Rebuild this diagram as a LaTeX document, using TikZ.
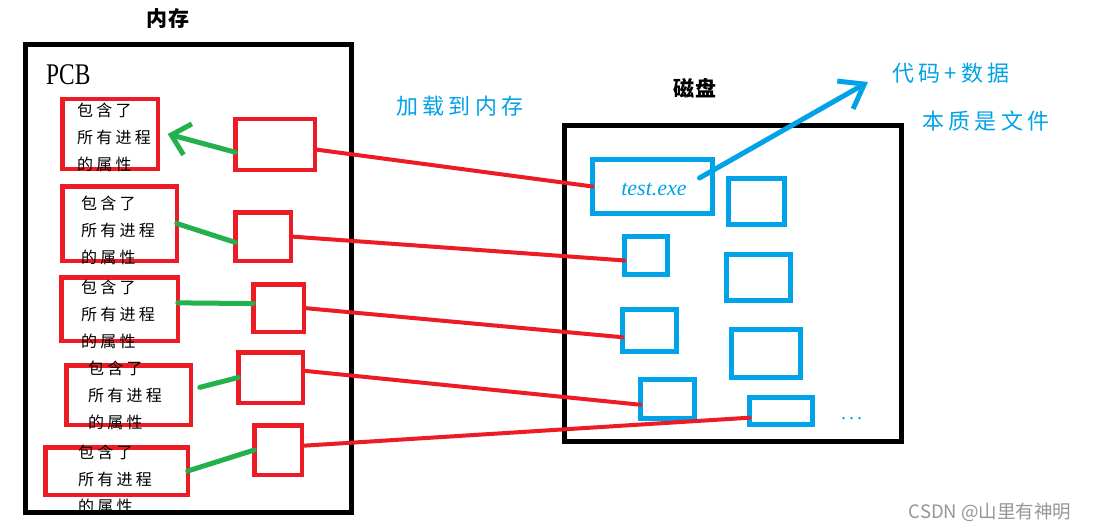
\documentclass[tikz,border=0pt]{standalone}
\usepackage{fontspec}
\setmainfont{Liberation Serif}
\newfontfamily\cjk[LetterSpace=20]{Noto Sans CJK SC}
\newfontfamily\cjkt[LetterSpace=8]{Noto Sans CJK SC}
\newfontfamily\wm{Noto Sans CJK SC}
\usetikzlibrary{arrows.meta}
\definecolor{pred}{RGB}{237,28,36}
\definecolor{pgreen}{RGB}{34,177,76}
\definecolor{pblue}{RGB}{0,162,232}
\definecolor{wmgray}{RGB}{150,150,150}
\begin{document}
\begin{tikzpicture}[x=1pt,y=-1pt,
  box/.style={draw, line width=4.5pt, inner sep=0pt, outer sep=0pt},
  redbox/.style={box, draw=pred},
  bluebox/.style={box, draw=pblue, line width=5pt},
  frame/.style={draw=black, line width=5pt, inner sep=0pt, outer sep=0pt},
  redline/.style={draw=pred, line width=4pt, line cap=round},
  greenline/.style={draw=pgreen, line width=5pt, line cap=round},
  blueline/.style={draw=pblue, line width=5pt, line cap=round},
  pcbtext/.style={anchor=west, align=left, inner sep=0pt, font=\cjk\fontsize{16}{27}\selectfont},
  bluetext/.style={text=pblue, inner sep=0pt, font=\cjk\fontsize{22}{24}\selectfont},
  title/.style={inner sep=0pt, font=\cjkt\bfseries\fontsize{21}{24}\selectfont},
  ]
\useasboundingbox (0,0) rectangle (1097,532);
\fill[white] (0,0) rectangle (1097,532);

% frames
\node[frame, minimum width=326pt, minimum height=468pt] (mem) at (188.5,278.5) {};
\node[frame, minimum width=337pt, minimum height=316pt] (disk) at (733,283.5) {};
\node[title] (memt) at (168,19) {内存};
\node[title] (diskt) at (695,88) {磁盘};
\node[inner sep=0pt, anchor=west, font=\fontsize{30}{30}\selectfont] (pcb) at (46,75) {\scalebox{0.78}[1]{PCB}};

% PCB boxes
\node[redbox, minimum width=95.5pt, minimum height=69.5pt] (P1) at (110,134) {};
\node[redbox, minimum width=114.5pt, minimum height=74.5pt] (P2) at (119.5,223.5) {};
\node[redbox, minimum width=116.5pt, minimum height=63.5pt] (P3) at (119.5,309) {};
\node[redbox, minimum width=124.5pt, minimum height=59.5pt] (P4) at (128.5,395) {};
\node[redbox, minimum width=142.5pt, minimum height=47.5pt] (P5) at (116.5,471) {};

\node[pcbtext] (t1) at (77,137) {包含了\\所有进程\\的属性};
\node[pcbtext] (t2) at (81,230) {包含了\\所有进程\\的属性};
\node[pcbtext] (t3) at (81,314) {包含了\\所有进程\\的属性};
\node[pcbtext] (t4) at (88,395) {包含了\\所有进程\\的属性};
\node[pcbtext] (t5) at (78,479) {包含了\\所有进程\\的属性};

% middle boxes
\node[redbox, minimum width=79.5pt, minimum height=50.5pt] (M1) at (275,144.5) {};
\node[redbox, minimum width=55.5pt, minimum height=48.5pt] (M2) at (263,236.5) {};
\node[redbox, minimum width=50.5pt, minimum height=47.5pt] (M3) at (278.5,308) {};
\node[redbox, minimum width=64.5pt, minimum height=50.5pt] (M4) at (270.5,377.5) {};
\node[redbox, minimum width=47.5pt, minimum height=49.5pt] (M5) at (278,450) {};

% disk boxes
\node[bluebox, minimum width=120pt, minimum height=54pt] (T) at (652.5,186.5) {};
\node[inner sep=0pt, text=pblue, font=\itshape\fontsize{22}{24}\selectfont] (Tl) at (654,189) {test.exe};
\node[bluebox, minimum width=43pt, minimum height=38pt] (D2) at (646,255.5) {};
\node[bluebox, minimum width=56pt, minimum height=46pt] (D3) at (756.5,201.5) {};
\node[bluebox, minimum width=64pt, minimum height=46pt] (D4) at (758.5,277.5) {};
\node[bluebox, minimum width=54pt, minimum height=42pt] (D5) at (649.5,330.5) {};
\node[bluebox, minimum width=69pt, minimum height=48pt] (D6) at (766,353.5) {};
\node[bluebox, minimum width=54pt, minimum height=39pt] (D7) at (667.5,399) {};
\node[bluebox, minimum width=63pt, minimum height=27pt] (D8) at (781,411) {};
\node[inner sep=0pt, text=pblue, font=\itshape\fontsize{20}{20}\selectfont] (dots) at (852,419) {.\kern3pt.\kern3pt.};

% labels
\node[bluetext] (load) at (460,106) {加载到内存};
\node[bluetext] (cd) at (951,73) {代码+数据};
\node[bluetext] (ess) at (986,121) {本质是文件};
\node[inner sep=0pt, text=wmgray, font=\wm\fontsize{18.5}{20}\selectfont] (wmk) at (990,512) {CSDN @山里有神明};

% green connectors
\draw[greenline, -{Straight Barb[length=17pt,width=32pt]}] (M1.191) -- ([xshift=10pt]P1.east);
\draw[greenline] (P2.east) -- (M2.192);
\draw[greenline] (P3.6) -- (M3.170);
\draw[greenline] (M4.west) -- ([xshift=9pt]P4.7);
\draw[greenline] (P5.east) -- (M5.west);

% red connectors
\draw[redline] (M1.353) -- (T.west);
\draw[redline] (M2.east) -- (D2.193);
\draw[redline] (M3.east) -- (D5.194);
\draw[redline] (M4.12) -- (D7.192);
\draw[redline] (M5.10) -- (D8.192);

% blue arrow
\coordinate (cdtip) at (868,82);
\draw[blueline, -{Straight Barb[length=22pt,width=32pt]}] ([xshift=-13pt,yshift=8.5pt]T.east) -- (cdtip);
\end{tikzpicture}
\end{document}
